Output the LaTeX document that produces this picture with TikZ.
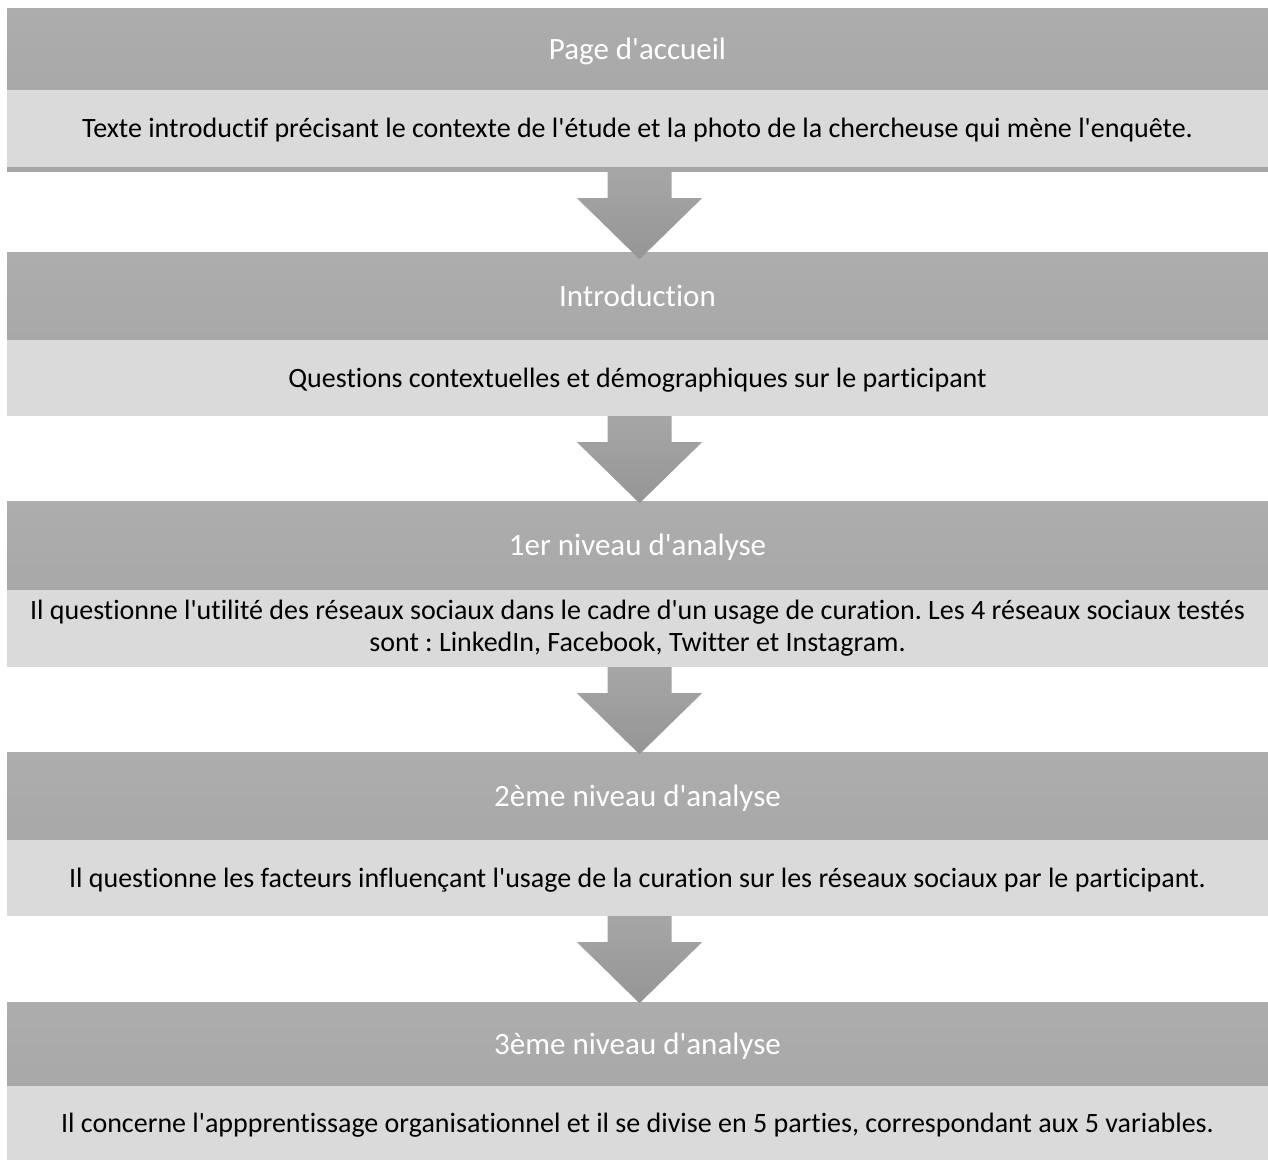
\documentclass[tikz,border=0pt]{standalone}
\usepackage{fontspec}
\setmainfont{Carlito}[Ligatures={NoCommon}]
\usetikzlibrary{calc}
\frenchspacing
\newcommand{\q}{\textquotesingle}
\definecolor{hdrtop}{HTML}{ADADAD}
\definecolor{hdrbot}{HTML}{A8A8A8}
\definecolor{bodyfill}{HTML}{DADADA}
\definecolor{stripc}{HTML}{A6A6A6}
\definecolor{arrtop}{HTML}{A6A6A6}
\definecolor{arrbot}{HTML}{959595}
\tikzset{
  hdr/.style={rectangle, inner sep=0pt, minimum width=1261pt, top color=hdrtop, bottom color=hdrbot,
    text=white, font=\fontsize{31pt}{36pt}\selectfont, text height=20pt, text depth=0pt},
  bdy/.style={rectangle, inner sep=0pt, minimum width=1261pt, fill=bodyfill,
    text=black, font=\fontsize{28pt}{32pt}\selectfont, align=center},
  onel/.style={text height=18pt, text depth=0pt},
  arr/.style={top color=arrtop, bottom color=arrbot, draw=none},
}
\newcommand{\flowarr}[1]{%
  \shade[arr] ($(#1.south)+(-30,0)$) -- ($(#1.south)+(34,0)$) -- ($(#1.south)+(34,26)$)
    -- ($(#1.south)+(64.5,26)$) -- ($(#1.south)+(2,87)$) -- ($(#1.south)+(-60.5,26)$)
    -- ($(#1.south)+(-30,26)$) -- cycle;}
\begin{document}
\begin{tikzpicture}[x=1pt,y=-1pt]
\useasboundingbox (0,0) rectangle (1268,1160);
\fill[white] (0,0) rectangle (1268,1160);
% section 1
\node[hdr, minimum height=82pt] (h1) at (637.5,49) {Page d\q accueil};
\node[bdy, onel, minimum height=77pt] (b1) at (637.5,128.5) {Texte introductif précisant le contexte de l\q étude et la photo de la chercheuse qui mène l\q enquête.};
\node[rectangle, inner sep=0pt, minimum width=1261pt, minimum height=5pt, fill=stripc] (s1) at (637.5,169.5) {};
% section 2
\node[hdr, minimum height=88pt] (h2) at (637.5,296) {Introduction};
\node[bdy, onel, minimum height=76pt] (b2) at (637.5,378) {Questions contextuelles et démographiques sur le participant};
% section 3
\node[hdr, minimum height=89pt] (h3) at (637.5,545.5) {1er niveau d\q analyse};
\node[bdy, minimum height=77pt] (b3) at (637.5,628.5) {Il questionne l\q utilité des réseaux sociaux dans le cadre d\q un usage de curation. Les 4 réseaux sociaux testés\\sont : LinkedIn, Facebook, Twitter et Instagram.};
% section 4
\node[hdr, minimum height=88pt] (h4) at (637.5,796) {2ème niveau d\q analyse};
\node[bdy, onel, minimum height=76pt] (b4) at (637.5,878) {Il questionne les facteurs influençant l\q usage de la curation sur les réseaux sociaux par le participant.};
% section 5
\node[hdr, minimum height=84pt] (h5) at (637.5,1044) {3ème niveau d\q analyse};
\node[bdy, onel, minimum height=74pt] (b5) at (637.5,1123) {Il concerne l\q appprentissage organisationnel et il se divise en 5 parties, correspondant aux 5 variables.};
% arrows
\flowarr{s1}
\flowarr{b2}
\flowarr{b3}
\flowarr{b4}
\end{tikzpicture}
\end{document}
